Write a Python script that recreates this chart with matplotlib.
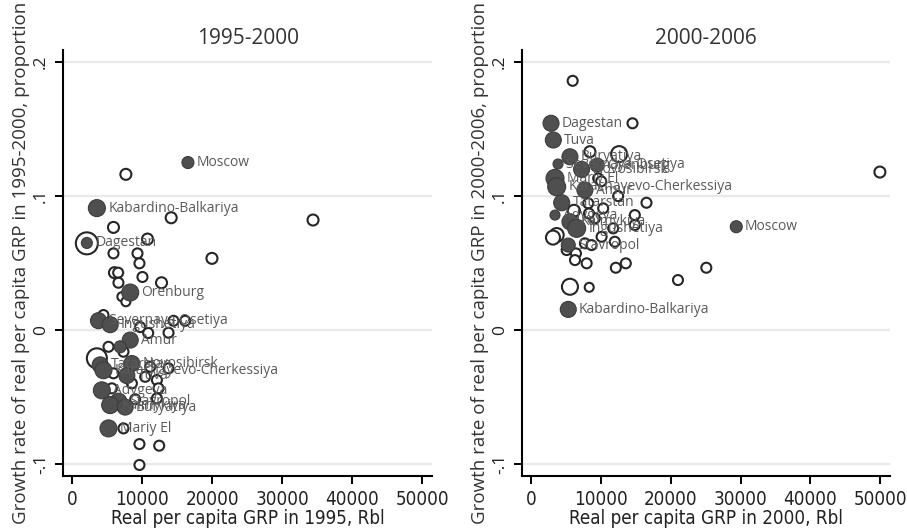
import matplotlib

matplotlib.use("Agg")
import matplotlib.pyplot as plt
import numpy as np

# ---- 1995-2000 panel -------------------------------------------------------
# labelled regions (filled markers)
left_lab = ["Moscow", "Kabardino-Balkariya", "Dagestan", "Orenburg",
            "Severnaya Osetiya", "Ingushetiya", "Amur", "Tatarstan",
            "Novosibirsk", "Karachayevo-Cherkessiya", "Tuva", "Adygeya",
            "Stavropol", "Kalmykiya", "Buryatiya", "Mariy El", ""]
left_lab_x = [16530, 3530, 2100, 8290, 3760, 5430, 8290, 4000, 8530, 4470,
              7810, 4240, 6610, 5430, 7570, 5190, 6860]
left_lab_y = [0.125, 0.091, 0.065, 0.028, 0.007, 0.004, -0.0075, -0.026,
              -0.025, -0.030, -0.034, -0.045, -0.0535, -0.0560, -0.0575,
              -0.0734, -0.0125]
left_lab_w = [12, 17, 11, 17, 16, 16, 16, 16, 16, 17, 16, 17, 17, 17, 16, 17, 12]

# other regions (hollow markers)
left_x = [7670, 14140, 34390, 5900, 2100, 10760, 5900, 9330, 19960, 9610,
          6040, 6570, 10040, 6610, 12760, 7100, 7670, 4470, 14470, 16140,
          13760, 5190, 7330, 3530, 11140, 13760, 5900, 10430, 12100, 5670,
          8530, 12330, 9000, 12100, 7330, 9610, 12430, 9610, 9710, 10860]
left_y = [0.1162, 0.0838, 0.0821, 0.0766, 0.0647, 0.0679, 0.0572, 0.0572,
          0.0535, 0.0498, 0.0428, 0.0428, 0.0396, 0.0353, 0.0353, 0.0249,
          0.0211, 0.0112, 0.0069, 0.0069, -0.0020, -0.0125, -0.0162, -0.0211,
          -0.0274, -0.0286, -0.0323, -0.0349, -0.0373, -0.0435, -0.0398,
          -0.0435, -0.0517, -0.0510, -0.0734, -0.0851, -0.0863, -0.1007,
          0.0022, -0.0022]
left_w = [11, 11, 11, 11, 22, 11, 10, 10, 11, 10, 11, 10, 10, 10, 11, 9, 9,
          10, 10, 10, 10, 10, 10, 20, 10, 10, 10, 10, 10, 10, 10, 10, 10, 10,
          10, 10, 10, 10, 10, 10]

# ---- 2000-2006 panel -------------------------------------------------------
right_lab = ["Dagestan", "Tuva", "Buryatiya", "Severnaya Osetiya", "Orenburg",
             "Novosibirsk", "Mariy El", "Karachayevo-Cherkessiya", "Amur",
             "Tatarstan", "Adygeya", "Kalmykiya", "Ingushetiya", "Stavropol",
             "Kabardino-Balkariya", "Moscow"]
right_lab_x = [2860, 3190, 5570, 3860, 9470, 7240, 3430, 3670, 7710, 4390,
               3430, 5570, 6530, 5330, 5330, 29390]
right_lab_y = [0.1543, 0.1418, 0.1293, 0.1239, 0.1231, 0.1199, 0.1132,
               0.1069, 0.1045, 0.0950, 0.0858, 0.0808, 0.0759, 0.0634,
               0.0154, 0.0771]
right_lab_w = [16, 16, 16, 10, 14, 16, 18, 18, 16, 16, 10, 16, 18, 14, 16, 12]

right_x = [5960, 14530, 8430, 12610, 49960, 9610, 12470, 16530, 8190, 10330,
           14860, 14860, 9140, 11760, 3670, 10100, 7710, 8670, 12000, 5100,
           6430, 6290, 7960, 12140, 13570, 25100, 21040, 5570, 8330, 3140,
           10050, 8290, 6140]
right_y = [0.186, 0.1543, 0.1331, 0.1313, 0.1179, 0.1132, 0.1000, 0.0950,
           0.0946, 0.0908, 0.0858, 0.0784, 0.0834, 0.0759, 0.0709, 0.0696,
           0.0647, 0.0634, 0.0659, 0.0597, 0.0572, 0.0522, 0.0498, 0.0465,
           0.0498, 0.0465, 0.0373, 0.0323, 0.0319, 0.0690, 0.1110, 0.0870,
           0.0890]
right_w = [10, 10, 11, 16, 11, 10, 10, 10, 10, 10, 10, 10, 10, 10, 14, 10,
           10, 10, 10, 10, 10, 10, 10, 10, 10, 10, 10, 16, 9, 14, 10, 10, 12]

yticks = [-0.1, 0, 0.1, 0.2]
ytick_labels = ["-.1", "0", ".1", ".2"]
xticks = [0, 10000, 20000, 30000, 40000, 50000]

FILL = "#4f4f4f"
EDGE = "#262626"
LABEL = "#5a5a5a"
plt.rcParams["font.family"] = ["Open Sans", "DejaVu Sans"]
# narrow face for the x axis texts (falls back to regular width if absent)
NARROW = dict(family=["DejaVu Sans"], stretch="condensed")


def px_to_s(d):
    return (np.asarray(d) * 0.72) ** 2


def panel(ax, title, xlabel, ylabel, hx, hy, hw, fx, fy, fw, flab):
    ax.set_xlim(-1300, 51400)
    ax.set_ylim(-0.109, 0.209)
    ax.set_yticks(yticks)
    ax.set_yticklabels(ytick_labels, rotation=90, va="center", fontsize=12.5,
                       color="#222222")
    ax.set_xticks(xticks)
    ax.set_xticklabels([str(t) for t in xticks], fontsize=13.5,
                       color="#222222", **NARROW)
    ax.grid(axis="y", color="#e9e9e9", lw=1.6)
    ax.set_axisbelow(True)
    for s in ("top", "right"):
        ax.spines[s].set_visible(False)
    for s in ("left", "bottom"):
        ax.spines[s].set_linewidth(1.5)
    ax.tick_params(length=6, width=1.4, direction="out", pad=4)
    ax.set_title(title, fontsize=15, color="#333333", pad=4)
    ax.set_xlabel(xlabel, fontsize=13.5, color="#222222", labelpad=0,
                  **NARROW)
    ax.set_ylabel(ylabel, fontsize=13.5, color="#333333", labelpad=2)

    ax.scatter(hx, hy, s=px_to_s(hw), facecolor="white", edgecolor=EDGE,
               linewidth=1.5, zorder=3)
    ax.scatter(fx, fy, s=px_to_s(fw), facecolor=FILL, edgecolor="#3c3c3c",
               linewidth=0.8, zorder=4)
    for x, y, w, t in zip(fx, fy, fw, flab):
        if t:
            ax.annotate(t, (x, y), xytext=(w * 0.36 + 2, 0),
                        textcoords="offset points", ha="left", va="center",
                        fontsize=10, color=LABEL, zorder=5)


fig = plt.figure(figsize=(9.07, 5.29), dpi=100)
ax1 = fig.add_axes([0.0695, 0.100, 0.407, 0.8055])
ax2 = fig.add_axes([0.5755, 0.100, 0.4057, 0.8055])

panel(ax1, "1995-2000", "Real per capita GRP in 1995, Rbl",
      "Growth rate of real per capita GRP in 1995-2000, proportion",
      left_x, left_y, left_w, left_lab_x, left_lab_y, left_lab_w, left_lab)
panel(ax2, "2000-2006", "Real per capita GRP in 2000, Rbl",
      "Growth rate of real per capita GRP in 2000-2006, proportion",
      right_x, right_y, right_w, right_lab_x, right_lab_y, right_lab_w,
      right_lab)

fig.savefig("out.png", dpi=100)
